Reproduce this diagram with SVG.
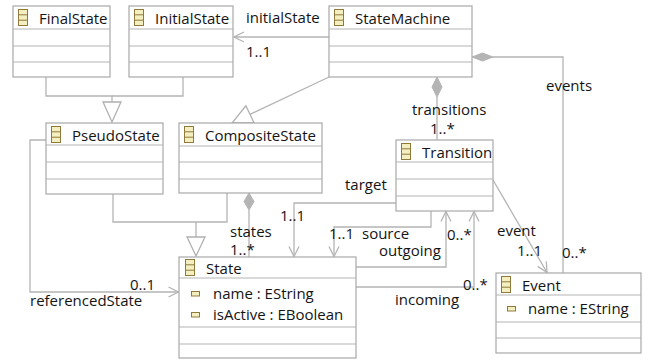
<svg xmlns="http://www.w3.org/2000/svg" width="649" height="360" viewBox="0 0 649 360">
  <defs>
    <style>
      .box { fill: #ffffff; stroke: #a8a8a8; stroke-width: 1.2; }
      .sep { stroke: #b4b4b4; stroke-width: 1.2; }
      .ln { fill: none; stroke: #b4b4b4; stroke-width: 1.3; }
      .gen { fill: #ffffff; stroke: #b0b0b0; stroke-width: 1.3; }
      .dia { fill: #b4b4b4; stroke: #b4b4b4; stroke-width: 1; }
      text { font-family: "Open Sans", "Noto Sans", "DejaVu Sans", sans-serif; font-size: 15px; fill: #141414; }
      .ico { fill: #f4efc0; stroke: #8f7a3c; stroke-width: 1; }
      .icl { stroke: #8f7a3c; stroke-width: 1; }
      .att { fill: #f4efc0; stroke: #8f7a3c; stroke-width: 1; }
    </style>
    <!-- EClass glyph -->
    <g id="classIcon">
      <rect class="ico" x="0.5" y="0.5" width="9" height="16"/>
      <line class="icl" x1="0.5" y1="5.8" x2="9.5" y2="5.8"/>
      <line class="icl" x1="0.5" y1="11.2" x2="9.5" y2="11.2"/>
    </g>
    <!-- EAttribute glyph -->
    <rect id="attrIcon" class="att" x="0.5" y="0.5" width="8" height="4.5"/>
    <marker id="open" viewBox="0 0 12 12" refX="11" refY="6" markerWidth="12" markerHeight="12" markerUnits="userSpaceOnUse" orient="auto">
      <path d="M1,1 L11,6 L1,11" fill="none" stroke="#b4b4b4" stroke-width="1.3"/>
    </marker>
  </defs>

  <!-- connectors -->
  <g id="connectors">
    <!-- generalizations to PseudoState -->
    <polyline class="ln" points="46,77 46,96 112,96 112,102"/>
    <polyline class="ln" points="183,77 183,96 112,96"/>
    <polygon class="gen" points="103,102 121,102 112,122"/>
    <!-- generalization StateMachine to CompositeState -->
    <line class="ln" x1="329" y1="77" x2="250" y2="114.4"/>
    <polygon class="gen" points="254.1,123 245.9,105.8 232,123"/>
    <!-- generalizations to State -->
    <polyline class="ln" points="113,194 113,222 227,222 227,193"/>
    <line class="ln" x1="196" y1="222" x2="196" y2="237"/>
    <polygon class="gen" points="187,237 205,237 196,256"/>
    <!-- initialState -->
    <line class="ln" x1="329" y1="37" x2="234" y2="37" marker-end="url(#open)"/>
    <!-- transitions (containment) -->
    <polygon class="dia" points="437,77 442,87 437,97 432,87"/>
    <line class="ln" x1="437" y1="97" x2="437" y2="140"/>
    <!-- events (containment) -->
    <polygon class="dia" points="472,57 482.5,53 493,57 482.5,61"/>
    <polyline class="ln" points="493,57 563,57 563,273"/>
    <!-- states (containment) -->
    <polygon class="dia" points="249,193 254,201.5 249,210 244,201.5"/>
    <line class="ln" x1="249" y1="210" x2="249" y2="257"/>
    <!-- target -->
    <polyline class="ln" points="396,203 294,203 294,256.5" marker-end="url(#open)"/>
    <!-- source -->
    <polyline class="ln" points="431,211 431,227 334,227 334,256.5" marker-end="url(#open)"/>
    <!-- outgoing -->
    <polyline class="ln" points="356,267 446,267 446,211.5" marker-end="url(#open)"/>
    <!-- incoming -->
    <polyline class="ln" points="356,287 474,287 474,211.5" marker-end="url(#open)"/>
    <!-- event -->
    <line class="ln" x1="493" y1="180" x2="547" y2="272.5" marker-end="url(#open)"/>
    <!-- referencedState -->
    <polyline class="ln" points="46,140 30,140 30,292 178.5,292" marker-end="url(#open)"/>

    <!-- connector labels -->
    <text x="246" y="23">initialState</text>
    <text x="246" y="57">1..1</text>
    <text x="412" y="115">transitions</text>
    <text x="430" y="134">1..*</text>
    <text x="546" y="91">events</text>
    <text x="345" y="190">target</text>
    <text x="280" y="221">1..1</text>
    <text x="329" y="239">1..1</text>
    <text x="362" y="239">source</text>
    <text x="379" y="256">outgoing</text>
    <text x="447" y="240">0..*</text>
    <text x="497" y="236">event</text>
    <text x="517" y="256">1..1</text>
    <text x="562" y="258">0..*</text>
    <text x="463" y="290">0..*</text>
    <text x="395" y="305">incoming</text>
    <text x="130" y="290">0..1</text>
    <text x="30" y="306">referencedState</text>
    <text x="230" y="237">states</text>
    <text x="230" y="255">1..*</text>
  </g>

  <!-- FinalState -->
  <g id="FinalState">
    <rect class="box" x="13" y="6" width="97" height="71"/>
    <line class="sep" x1="13" y1="29" x2="110" y2="29"/>
    <line class="sep" x1="13" y1="46" x2="110" y2="46"/>
    <line class="sep" x1="13" y1="62" x2="110" y2="62"/>
    <use href="#classIcon" x="18" y="9"/>
    <text x="39" y="24">FinalState</text>
  </g>

  <!-- InitialState -->
  <g id="InitialState">
    <rect class="box" x="129" y="6" width="104" height="71"/>
    <line class="sep" x1="129" y1="29" x2="233" y2="29"/>
    <line class="sep" x1="129" y1="46" x2="233" y2="46"/>
    <line class="sep" x1="129" y1="62" x2="233" y2="62"/>
    <use href="#classIcon" x="134" y="9"/>
    <text x="155" y="24">InitialState</text>
  </g>

  <!-- StateMachine -->
  <g id="StateMachine">
    <rect class="box" x="329" y="6" width="143" height="71"/>
    <line class="sep" x1="329" y1="29" x2="472" y2="29"/>
    <line class="sep" x1="329" y1="46" x2="472" y2="46"/>
    <line class="sep" x1="329" y1="62" x2="472" y2="62"/>
    <use href="#classIcon" x="334" y="9"/>
    <text x="355" y="24">StateMachine</text>
  </g>

  <!-- PseudoState -->
  <g id="PseudoState">
    <rect class="box" x="46" y="123" width="117" height="71"/>
    <line class="sep" x1="46" y1="145" x2="163" y2="145"/>
    <line class="sep" x1="46" y1="162" x2="163" y2="162"/>
    <line class="sep" x1="46" y1="179" x2="163" y2="179"/>
    <use href="#classIcon" x="51" y="126"/>
    <text x="72" y="141">PseudoState</text>
  </g>

  <!-- CompositeState -->
  <g id="CompositeState">
    <rect class="box" x="179" y="123" width="143" height="70"/>
    <line class="sep" x1="179" y1="146" x2="322" y2="146"/>
    <line class="sep" x1="179" y1="162" x2="322" y2="162"/>
    <line class="sep" x1="179" y1="179" x2="322" y2="179"/>
    <use href="#classIcon" x="184" y="126"/>
    <text x="205" y="141">CompositeState</text>
  </g>

  <!-- Transition -->
  <g id="Transition">
    <rect class="box" x="396" y="140" width="97" height="71"/>
    <line class="sep" x1="396" y1="162" x2="493" y2="162"/>
    <line class="sep" x1="396" y1="179" x2="493" y2="179"/>
    <line class="sep" x1="396" y1="196" x2="493" y2="196"/>
    <use href="#classIcon" x="401" y="143"/>
    <text x="422" y="158">Transition</text>
  </g>

  <!-- State -->
  <g id="State">
    <rect class="box" x="179" y="257" width="177" height="101"/>
    <line class="sep" x1="179" y1="278" x2="356" y2="278"/>
    <line class="sep" x1="179" y1="327" x2="356" y2="327"/>
    <line class="sep" x1="179" y1="344" x2="356" y2="344"/>
    <use href="#classIcon" x="185" y="259"/>
    <text x="206" y="274">State</text>
    <use href="#attrIcon" x="191" y="291"/>
    <text x="213" y="299">name : EString</text>
    <use href="#attrIcon" x="191" y="312"/>
    <text x="213" y="320">isActive : EBoolean</text>
  </g>

  <!-- Event -->
  <g id="Event">
    <rect class="box" x="496" y="273" width="145" height="80"/>
    <line class="sep" x1="496" y1="295" x2="641" y2="295"/>
    <line class="sep" x1="496" y1="322" x2="641" y2="322"/>
    <line class="sep" x1="496" y1="338" x2="641" y2="338"/>
    <use href="#classIcon" x="501" y="276"/>
    <text x="522" y="291">Event</text>
    <use href="#attrIcon" x="507" y="306"/>
    <text x="528" y="314">name : EString</text>
  </g>
</svg>
